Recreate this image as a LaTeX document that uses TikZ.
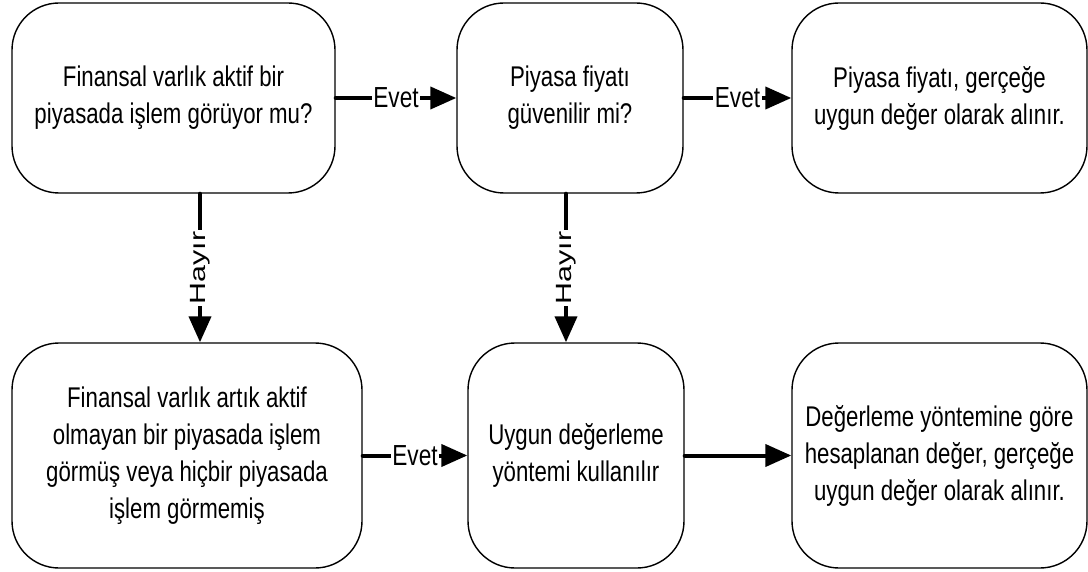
\documentclass[tikz,border=0pt]{standalone}
\usepackage{fontspec}
\usepackage{graphicx}
\setmainfont{Liberation Sans}[FakeStretch=0.78]
\newfontfamily\plainfont{Liberation Sans}
\usetikzlibrary{arrows.meta}
\begin{document}
\begin{tikzpicture}[x=1pt,y=-1pt,
  box/.style={draw, line width=1.4pt, rounded corners=47pt, align=center,
    font=\fontsize{28.5}{37}\selectfont, inner sep=0pt},
  toprow/.style={box, minimum height=190pt},
  botrow/.style={box, minimum height=225pt},
  arr/.style={line width=4pt, line cap=round, -{Triangle[length=26pt,width=22pt]}},
  lbl/.style={fill=white, inner sep=1.5pt, font=\fontsize{29}{30}\selectfont},
  vlbl/.style={fill=white, inner sep=1.5pt, rotate=90, font=\plainfont\fontsize{22}{26}\selectfont},
]
\useasboundingbox (0,0) rectangle (1088,572);
\fill[white] (0,0) rectangle (1088,572);

\node[toprow, minimum width=323pt] (b1) at (173.5,98)
  {Finansal varlık aktif bir\\piyasada işlem görüyor mu?};
\node[toprow, minimum width=226pt] (b2) at (570,98)
  {Piyasa fiyatı\\güvenilir mi?};
\node[toprow, minimum width=295pt] (b3) at (939.5,98)
  {Piyasa fiyatı, gerçeğe\\uygun değer olarak alınır.};

\node[botrow, minimum width=350pt] (b4) at (187,455.5)
  {Finansal varlık artık aktif\\olmayan bir piyasada işlem\\görmüş veya hiçbir piyasada\\işlem görmemiş};
\node[botrow, minimum width=216pt] (b5) at (576,455.5)
  {Uygun değerleme\\yöntemi kullanılır};
\node[botrow, minimum width=295pt] (b6) at (939.5,455.5)
  {Değerleme yöntemine göre\\hesaplanan değer, gerçeğe\\uygun değer olarak alınır.};

\draw[arr] (b1.east) -- node[lbl]{Evet} (b2.west);
\draw[arr] (b2.east) -- node[lbl]{Evet} (b3.west);

\coordinate (h1) at ([xshift=26.5pt]b1.south);
\draw[arr] (h1) -- node[vlbl]{\scalebox{1.38}[1]{Hayır}} (h1 |- b4.north);
\coordinate (h2) at ([xshift=-4pt]b2.south);
\draw[arr] (h2) -- node[vlbl]{\scalebox{1.38}[1]{Hayır}} (h2 |- b5.north);

\draw[arr] (b4.east) -- node[lbl]{Evet} (b5.west);
\draw[arr] (b5.east) -- (b6.west);
\end{tikzpicture}
\end{document}
